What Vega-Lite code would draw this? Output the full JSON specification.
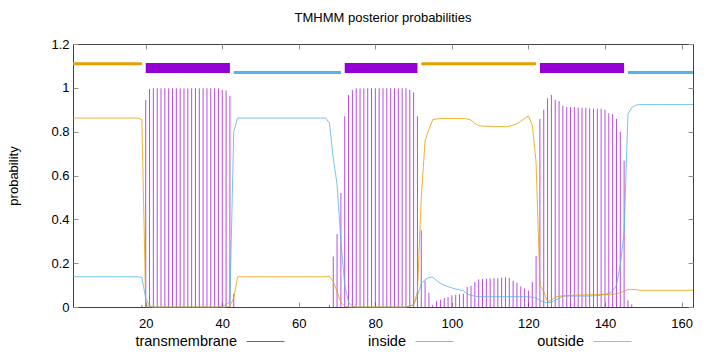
{
  "$schema": "https://vega.github.io/schema/vega-lite/v6.json",
  "width": 620,
  "height": 263,
  "autosize": {"type": "none"},
  "padding": {"left": 73, "top": 44, "right": 27, "bottom": 45},
  "title": {"text": "TMHMM posterior probabilities", "fontSize": 13, "fontWeight": "normal", "font": "Liberation Sans", "color": "#000", "offset": 13},
  "config": {
    "font": "Liberation Sans",
    "view": {"stroke": "#404040", "strokeWidth": 1},
    "axis": {"grid": false, "domain": false, "tickColor": "#909090", "tickSize": -5, "labelColor": "#000", "labelFontSize": 13, "labelFont": "Liberation Sans", "titleFont": "Liberation Sans", "titleFontWeight": "normal", "titleColor": "#000"}
  },
  "datasets": {
    "plp": [
      {"r":1,"tm":0,"inside":0.138,"outside":0.862},{"r":2,"tm":0,"inside":0.138,"outside":0.862},{"r":3,"tm":0,"inside":0.138,"outside":0.862},{"r":4,"tm":0,"inside":0.138,"outside":0.862},{"r":5,"tm":0,"inside":0.138,"outside":0.862},{"r":6,"tm":0,"inside":0.138,"outside":0.862},{"r":7,"tm":0,"inside":0.138,"outside":0.862},{"r":8,"tm":0,"inside":0.138,"outside":0.862},{"r":9,"tm":0,"inside":0.138,"outside":0.862},{"r":10,"tm":0,"inside":0.138,"outside":0.862},
      {"r":11,"tm":0,"inside":0.138,"outside":0.862},{"r":12,"tm":0,"inside":0.138,"outside":0.862},{"r":13,"tm":0,"inside":0.138,"outside":0.862},{"r":14,"tm":0,"inside":0.138,"outside":0.862},{"r":15,"tm":0,"inside":0.138,"outside":0.862},{"r":16,"tm":0,"inside":0.138,"outside":0.862},{"r":17,"tm":0,"inside":0.138,"outside":0.862},{"r":18,"tm":0,"inside":0.138,"outside":0.862},{"r":19,"tm":0.01,"inside":0.135,"outside":0.855},{"r":20,"tm":0.945,"inside":0.04,"outside":0.015},
      {"r":21,"tm":0.995,"inside":0.005,"outside":0},{"r":22,"tm":0.998,"inside":0,"outside":0},{"r":23,"tm":0.998,"inside":0,"outside":0},{"r":24,"tm":0.998,"inside":0,"outside":0},{"r":25,"tm":0.998,"inside":0,"outside":0},{"r":26,"tm":0.998,"inside":0,"outside":0},{"r":27,"tm":0.998,"inside":0,"outside":0},{"r":28,"tm":0.998,"inside":0,"outside":0},{"r":29,"tm":0.998,"inside":0,"outside":0},{"r":30,"tm":0.998,"inside":0,"outside":0},
      {"r":31,"tm":0.998,"inside":0,"outside":0},{"r":32,"tm":0.998,"inside":0,"outside":0},{"r":33,"tm":0.998,"inside":0,"outside":0},{"r":34,"tm":0.998,"inside":0,"outside":0},{"r":35,"tm":0.998,"inside":0,"outside":0},{"r":36,"tm":0.998,"inside":0,"outside":0},{"r":37,"tm":0.998,"inside":0,"outside":0},{"r":38,"tm":0.998,"inside":0,"outside":0},{"r":39,"tm":0.998,"inside":0,"outside":0},{"r":40,"tm":0.99,"inside":0.005,"outside":0},
      {"r":41,"tm":0.988,"inside":0.01,"outside":0},{"r":42,"tm":0.963,"inside":0.025,"outside":0.005},{"r":43,"tm":0.06,"inside":0.8,"outside":0.04},{"r":44,"tm":0,"inside":0.862,"outside":0.138},{"r":45,"tm":0,"inside":0.862,"outside":0.138},{"r":46,"tm":0,"inside":0.862,"outside":0.138},{"r":47,"tm":0,"inside":0.862,"outside":0.138},{"r":48,"tm":0,"inside":0.862,"outside":0.138},{"r":49,"tm":0,"inside":0.862,"outside":0.138},{"r":50,"tm":0,"inside":0.862,"outside":0.138},
      {"r":51,"tm":0,"inside":0.862,"outside":0.138},{"r":52,"tm":0,"inside":0.862,"outside":0.138},{"r":53,"tm":0,"inside":0.862,"outside":0.138},{"r":54,"tm":0,"inside":0.862,"outside":0.138},{"r":55,"tm":0,"inside":0.862,"outside":0.138},{"r":56,"tm":0,"inside":0.862,"outside":0.138},{"r":57,"tm":0,"inside":0.862,"outside":0.138},{"r":58,"tm":0,"inside":0.862,"outside":0.138},{"r":59,"tm":0,"inside":0.862,"outside":0.138},{"r":60,"tm":0,"inside":0.862,"outside":0.138},
      {"r":61,"tm":0,"inside":0.862,"outside":0.138},{"r":62,"tm":0,"inside":0.862,"outside":0.138},{"r":63,"tm":0,"inside":0.862,"outside":0.138},{"r":64,"tm":0,"inside":0.862,"outside":0.138},{"r":65,"tm":0,"inside":0.862,"outside":0.138},{"r":66,"tm":0,"inside":0.862,"outside":0.138},{"r":67,"tm":0,"inside":0.862,"outside":0.138},{"r":68,"tm":0.01,"inside":0.84,"outside":0.14},{"r":69,"tm":0.23,"inside":0.68,"outside":0.115},{"r":70,"tm":0.333,"inside":0.56,"outside":0.07},
      {"r":71,"tm":0.52,"inside":0.3,"outside":0.02},{"r":72,"tm":0.87,"inside":0.1,"outside":0.005},{"r":73,"tm":0.968,"inside":0.02,"outside":0},{"r":74,"tm":0.99,"inside":0.005,"outside":0},{"r":75,"tm":0.998,"inside":0,"outside":0},{"r":76,"tm":0.998,"inside":0,"outside":0},{"r":77,"tm":0.998,"inside":0,"outside":0},{"r":78,"tm":0.998,"inside":0,"outside":0},{"r":79,"tm":0.998,"inside":0,"outside":0},{"r":80,"tm":0.998,"inside":0,"outside":0},
      {"r":81,"tm":0.998,"inside":0,"outside":0},{"r":82,"tm":0.998,"inside":0,"outside":0},{"r":83,"tm":0.998,"inside":0,"outside":0},{"r":84,"tm":0.998,"inside":0,"outside":0},{"r":85,"tm":0.998,"inside":0,"outside":0},{"r":86,"tm":0.998,"inside":0,"outside":0},{"r":87,"tm":0.998,"inside":0,"outside":0},{"r":88,"tm":0.998,"inside":0,"outside":0},{"r":89,"tm":0.99,"inside":0.005,"outside":0.005},{"r":90,"tm":0.979,"inside":0.01,"outside":0.01},
      {"r":91,"tm":0.87,"inside":0.05,"outside":0.07},{"r":92,"tm":0.35,"inside":0.107,"outside":0.5},{"r":93,"tm":0.12,"inside":0.125,"outside":0.76},{"r":94,"tm":0.065,"inside":0.134,"outside":0.81},{"r":95,"tm":0.01,"inside":0.137,"outside":0.855},{"r":96,"tm":0.027,"inside":0.12,"outside":0.858},{"r":97,"tm":0.033,"inside":0.108,"outside":0.86},{"r":98,"tm":0.041,"inside":0.1,"outside":0.86},{"r":99,"tm":0.046,"inside":0.093,"outside":0.86},{"r":100,"tm":0.053,"inside":0.087,"outside":0.86},
      {"r":101,"tm":0.056,"inside":0.082,"outside":0.86},{"r":102,"tm":0.058,"inside":0.078,"outside":0.86},{"r":103,"tm":0.061,"inside":0.074,"outside":0.86},{"r":104,"tm":0.091,"inside":0.06,"outside":0.858},{"r":105,"tm":0.096,"inside":0.053,"outside":0.853},{"r":106,"tm":0.114,"inside":0.05,"outside":0.838},{"r":107,"tm":0.126,"inside":0.047,"outside":0.828},{"r":108,"tm":0.128,"inside":0.047,"outside":0.825},{"r":109,"tm":0.129,"inside":0.047,"outside":0.825},{"r":110,"tm":0.13,"inside":0.047,"outside":0.824},
      {"r":111,"tm":0.132,"inside":0.047,"outside":0.823},{"r":112,"tm":0.132,"inside":0.047,"outside":0.823},{"r":113,"tm":0.135,"inside":0.047,"outside":0.823},{"r":114,"tm":0.135,"inside":0.047,"outside":0.823},{"r":115,"tm":0.133,"inside":0.047,"outside":0.825},{"r":116,"tm":0.12,"inside":0.047,"outside":0.83},{"r":117,"tm":0.11,"inside":0.047,"outside":0.836},{"r":118,"tm":0.094,"inside":0.047,"outside":0.848},{"r":119,"tm":0.084,"inside":0.047,"outside":0.86},{"r":120,"tm":0.075,"inside":0.046,"outside":0.872},
      {"r":121,"tm":0.114,"inside":0.045,"outside":0.83},{"r":122,"tm":0.233,"inside":0.04,"outside":0.66},{"r":123,"tm":0.858,"inside":0.03,"outside":0.1},{"r":124,"tm":0.9,"inside":0.022,"outside":0.07},{"r":125,"tm":0.953,"inside":0.02,"outside":0.025},{"r":126,"tm":0.968,"inside":0.022,"outside":0.03},{"r":127,"tm":0.945,"inside":0.03,"outside":0.045},{"r":128,"tm":0.94,"inside":0.04,"outside":0.05},{"r":129,"tm":0.918,"inside":0.05,"outside":0.05},{"r":130,"tm":0.912,"inside":0.05,"outside":0.052},
      {"r":131,"tm":0.912,"inside":0.05,"outside":0.053},{"r":132,"tm":0.912,"inside":0.05,"outside":0.054},{"r":133,"tm":0.91,"inside":0.05,"outside":0.055},{"r":134,"tm":0.909,"inside":0.05,"outside":0.055},{"r":135,"tm":0.909,"inside":0.05,"outside":0.055},{"r":136,"tm":0.906,"inside":0.05,"outside":0.056},{"r":137,"tm":0.905,"inside":0.051,"outside":0.056},{"r":138,"tm":0.905,"inside":0.052,"outside":0.056},{"r":139,"tm":0.905,"inside":0.055,"outside":0.057},{"r":140,"tm":0.9,"inside":0.058,"outside":0.057},
      {"r":141,"tm":0.884,"inside":0.062,"outside":0.058},{"r":142,"tm":0.881,"inside":0.072,"outside":0.058},{"r":143,"tm":0.858,"inside":0.1,"outside":0.06},{"r":144,"tm":0.8,"inside":0.19,"outside":0.065},{"r":145,"tm":0.668,"inside":0.34,"outside":0.072},{"r":146,"tm":0.03,"inside":0.88,"outside":0.08},{"r":147,"tm":0.012,"inside":0.91,"outside":0.08},{"r":148,"tm":0,"inside":0.92,"outside":0.08},{"r":149,"tm":0,"inside":0.924,"outside":0.076},{"r":150,"tm":0,"inside":0.924,"outside":0.076},
      {"r":151,"tm":0,"inside":0.924,"outside":0.076},{"r":152,"tm":0,"inside":0.924,"outside":0.076},{"r":153,"tm":0,"inside":0.924,"outside":0.076},{"r":154,"tm":0,"inside":0.924,"outside":0.076},{"r":155,"tm":0,"inside":0.924,"outside":0.076},{"r":156,"tm":0,"inside":0.924,"outside":0.076},{"r":157,"tm":0,"inside":0.924,"outside":0.076},{"r":158,"tm":0,"inside":0.924,"outside":0.076},{"r":159,"tm":0,"inside":0.924,"outside":0.076},{"r":160,"tm":0,"inside":0.924,"outside":0.076},
      {"r":161,"tm":0,"inside":0.924,"outside":0.076},{"r":162,"tm":0,"inside":0.924,"outside":0.076},{"r":163,"tm":0,"inside":0.924,"outside":0.076}
    ],
    "segments": [
      {"type":"outside","start":1,"end":19,"level":1.11},
      {"type":"transmembrane","start":20,"end":42,"level":1.09},
      {"type":"inside","start":43,"end":71,"level":1.07},
      {"type":"transmembrane","start":72,"end":91,"level":1.09},
      {"type":"outside","start":92,"end":122,"level":1.11},
      {"type":"transmembrane","start":123,"end":145,"level":1.09},
      {"type":"inside","start":146,"end":163,"level":1.07}
    ]
  },
  "layer": [
    {
      "data": {"name": "plp"},
      "mark": {"type": "rule", "strokeWidth": 1, "opacity": 0.7},
      "encoding": {
        "x": {"field": "r", "type": "quantitative", "scale": {"domain": [1, 163], "nice": false, "zero": false},
              "axis": {"orient": "bottom", "values": [20, 40, 60, 80, 100, 120, 140, 160], "title": null, "labelPadding": 15}},
        "y": {"field": "tm", "type": "quantitative", "scale": {"domain": [0, 1.2], "nice": false},
              "axis": {"orient": "left", "values": [0, 0.2, 0.4, 0.6, 0.8, 1, 1.2], "format": "~g", "title": "probability", "titleFontSize": 13, "labelPadding": 9, "titlePadding": 30}},
        "y2": {"datum": 0},
        "color": {"datum": "transmembrane", "type": "nominal", "title": null,
                  "scale": {"domain": ["transmembrane", "inside", "outside"], "range": ["#9400d3", "#56b4e9", "#e69f00"]},
                  "legend": {"orient": "none", "legendX": 173, "legendY": 278, "direction": "horizontal", "symbolType": "stroke", "symbolSize": 1444, "symbolStrokeWidth": 1, "symbolOpacity": 0.5, "labelFontSize": 14.5, "labelFont": "Liberation Sans", "labelColor": "#000", "labelAlign": "right", "labelOffset": -48, "columnPadding": 81, "title": null}}
      }
    },
    {
      "data": {"name": "plp"},
      "transform": [{"fold": ["inside", "outside"], "as": ["series", "p"]}],
      "mark": {"type": "line", "strokeWidth": 1, "opacity": 0.8},
      "encoding": {
        "x": {"field": "r", "type": "quantitative", "scale": {"domain": [1, 163], "nice": false, "zero": false}, "axis": null},
        "y": {"field": "p", "type": "quantitative", "scale": {"domain": [0, 1.2], "nice": false}, "axis": null},
        "color": {"field": "series", "type": "nominal", "title": null}
      }
    },
    {
      "data": {"name": "segments"},
      "transform": [{"filter": "datum.type !== 'transmembrane'"}],
      "mark": {"type": "rule", "strokeCap": "butt", "strokeWidth": 3},
      "encoding": {
        "x": {"field": "start", "type": "quantitative", "scale": {"domain": [1, 163], "nice": false, "zero": false}, "axis": null},
        "x2": {"field": "end"},
        "y": {"field": "level", "type": "quantitative", "scale": {"domain": [0, 1.2], "nice": false}, "axis": null},
        "color": {"field": "type", "type": "nominal", "title": null}
      }
    },
    {
      "data": {"name": "segments"},
      "transform": [{"filter": "datum.type === 'transmembrane'"}],
      "mark": {"type": "rule", "strokeCap": "butt", "strokeWidth": 10},
      "encoding": {
        "x": {"field": "start", "type": "quantitative", "scale": {"domain": [1, 163], "nice": false, "zero": false},
              "axis": {"orient": "top", "values": [20, 40, 60, 80, 100, 120, 140, 160], "labels": false, "title": null}},
        "x2": {"field": "end"},
        "y": {"field": "level", "type": "quantitative", "scale": {"domain": [0, 1.2], "nice": false},
              "axis": {"orient": "right", "values": [0, 0.2, 0.4, 0.6, 0.8, 1, 1.2], "labels": false, "title": null}},
        "color": {"field": "type", "type": "nominal", "title": null}
      }
    }
  ],
  "resolve": {"axis": {"x": "independent", "y": "independent"}}
}
